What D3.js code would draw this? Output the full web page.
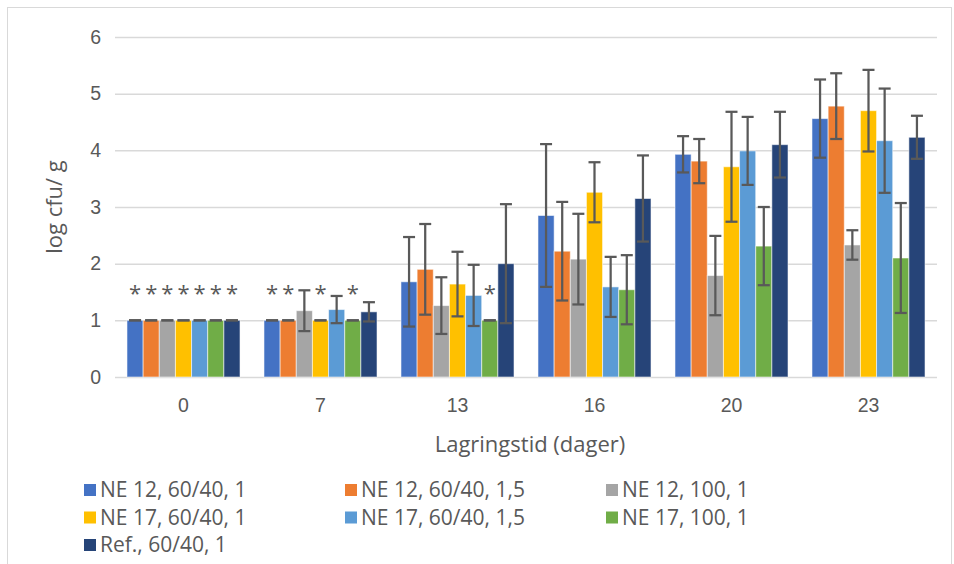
<!DOCTYPE html>
<html lang="en">
<head>
<meta charset="utf-8" />
<title>log cfu/g over storage time</title>
<script src="https://cdn.jsdelivr.net/npm/d3@7"></script>
<style>
    body { margin: 0; background: #fff; }
    svg { display: block; font-family: "Open Sans", sans-serif; }
</style>
</head>
<body>
<svg id="chart" width="954" height="564"></svg>
<script>
// storage days (categories)
const days = ["0", "7", "13", "16", "20", "23"];
const yTicks = [0, 1, 2, 3, 4, 5, 6];

const seriesNames = [
    "NE 12, 60/40, 1", "NE 12, 60/40, 1,5", "NE 12, 100, 1",
    "NE 17, 60/40, 1", "NE 17, 60/40, 1,5", "NE 17, 100, 1",
    "Ref., 60/40, 1"
];
const seriesColors = ["#4472C4", "#ED7D31", "#A5A5A5", "#FFC000", "#5B9BD5", "#70AD47", "#264478"];

// mean log cfu/g per day, one array per series
const ne12_6040_1   = [1.00, 1.00, 1.68, 2.85, 3.93, 4.56];
const ne12_6040_15  = [1.00, 1.00, 1.90, 2.22, 3.81, 4.78];
const ne12_100_1    = [1.00, 1.17, 1.26, 2.08, 1.79, 2.33];
const ne17_6040_1   = [1.00, 1.00, 1.64, 3.26, 3.71, 4.70];
const ne17_6040_15  = [1.00, 1.19, 1.44, 1.59, 3.99, 4.17];
const ne17_100_1    = [1.00, 1.00, 1.00, 1.54, 2.31, 2.10];
const ref_6040_1    = [1.00, 1.15, 2.00, 3.15, 4.10, 4.23];

// error bar half-lengths (+/-)
const ne12_6040_1_err  = [0, 0, 0.79, 1.26, 0.32, 0.69];
const ne12_6040_15_err = [0, 0, 0.80, 0.87, 0.39, 0.58];
const ne12_100_1_err   = [0, 0.36, 0.50, 0.80, 0.70, 0.26];
const ne17_6040_1_err  = [0, 0, 0.57, 0.53, 0.97, 0.72];
const ne17_6040_15_err = [0, 0.24, 0.54, 0.53, 0.60, 0.92];
const ne17_100_1_err   = [0, 0, 0, 0.61, 0.69, 0.97];
const ref_6040_1_err   = [0, 0.17, 1.05, 0.76, 0.58, 0.38];

// bars flagged with an asterisk: [day, series index]
const starMarks = [
    ["0", 0], ["0", 1], ["0", 2], ["0", 3], ["0", 4], ["0", 5], ["0", 6],
    ["7", 0], ["7", 1], ["7", 3], ["7", 5],
    ["13", 5]
];

const means = [ne12_6040_1, ne12_6040_15, ne12_100_1, ne17_6040_1, ne17_6040_15, ne17_100_1, ref_6040_1];
const errs = [ne12_6040_1_err, ne12_6040_15_err, ne12_100_1_err, ne17_6040_1_err, ne17_6040_15_err, ne17_100_1_err, ref_6040_1_err];

// flat table for drawing
const rows = [];
days.forEach((d, di) => {
    seriesNames.forEach((s, si) => {
        rows.push({ day: d, series: si, value: means[si][di], err: errs[si][di] });
    });
});

const svg = d3.select("#chart");
const textColor = "#595959";
const gridColor = "#d9d9d9";

// outer chart border
svg.append("rect")
    .attr("x", 7.5).attr("y", 7.5)
    .attr("width", 944).attr("height", 570)
    .attr("fill", "none")
    .attr("stroke", gridColor);

const plot = { left: 115, right: 937, top: 37, bottom: 377 };

const x0 = d3.scaleBand()
    .domain(days)
    .range([plot.left, plot.right])
    .paddingInner(0.175)
    .paddingOuter(0.0875);

const x1 = d3.scaleBand()
    .domain(d3.range(seriesNames.length))
    .range([0, x0.bandwidth()]);

const y = d3.scaleLinear()
    .domain([0, 6])
    .range([plot.bottom, plot.top]);

// gridlines + y labels
const yAxis = d3.axisLeft(y)
    .tickValues(yTicks)
    .tickSize(-(plot.right - plot.left))
    .tickPadding(14)
    .tickFormat(d3.format("d"));

const gy = svg.append("g")
    .attr("transform", `translate(${plot.left},0)`)
    .call(yAxis);
gy.select(".domain").remove();
gy.selectAll(".tick line").attr("stroke", gridColor).attr("stroke-width", 1.5);
gy.selectAll(".tick text")
    .attr("fill", textColor)
    .style("font-size", "19.5px");

// x labels
const xAxis = d3.axisBottom(x0).tickSize(0).tickPadding(21);
const gx = svg.append("g")
    .attr("transform", `translate(0,${plot.bottom})`)
    .call(xAxis);
gx.select(".domain").remove();
gx.selectAll(".tick text")
    .attr("fill", textColor)
    .style("font-size", "19.5px");

// bars
const groups = svg.append("g")
    .selectAll("g")
    .data(days)
    .join("g")
    .attr("transform", d => `translate(${x0(d)},0)`);

groups.selectAll("rect")
    .data(d => rows.filter(r => r.day === d))
    .join("rect")
    .attr("x", r => x1(r.series))
    .attr("y", r => y(r.value))
    .attr("width", x1.bandwidth())
    .attr("height", r => y(0) - y(r.value))
    .attr("fill", r => seriesColors[r.series])
    .attr("stroke", "rgba(255,255,255,0.55)")
    .attr("stroke-width", 1);

// error bars
const capHalf = 6;
const eb = groups.selectAll("g.err")
    .data(d => rows.filter(r => r.day === d))
    .join("g")
    .attr("class", "err")
    .attr("stroke", "#595959")
    .attr("stroke-width", 2.25);

eb.append("line")
    .attr("x1", r => x1(r.series) + x1.bandwidth() / 2)
    .attr("x2", r => x1(r.series) + x1.bandwidth() / 2)
    .attr("y1", r => y(r.value + r.err))
    .attr("y2", r => y(r.value - r.err));
eb.append("line")
    .attr("x1", r => x1(r.series) + x1.bandwidth() / 2 - capHalf)
    .attr("x2", r => x1(r.series) + x1.bandwidth() / 2 + capHalf)
    .attr("y1", r => y(r.value + r.err))
    .attr("y2", r => y(r.value + r.err));
eb.append("line")
    .attr("x1", r => x1(r.series) + x1.bandwidth() / 2 - capHalf)
    .attr("x2", r => x1(r.series) + x1.bandwidth() / 2 + capHalf)
    .attr("y1", r => y(r.value - r.err))
    .attr("y2", r => y(r.value - r.err));

// asterisks
svg.append("g")
    .selectAll("text")
    .data(starMarks)
    .join("text")
    .attr("x", m => x0(m[0]) + x1(m[1]) + x1.bandwidth() / 2)
    .attr("y", y(1) - 19)
    .attr("text-anchor", "middle")
    .attr("fill", textColor)
    .style("font-size", "22px")
    .text("*");

// axis titles
svg.append("text")
    .attr("x", (plot.left + plot.right) / 2 + 4)
    .attr("y", 452)
    .attr("text-anchor", "middle")
    .attr("fill", textColor)
    .style("font-size", "22px")
    .text("Lagringstid (dager)");

svg.append("text")
    .attr("transform", `translate(62,${(plot.top + plot.bottom) / 2}) rotate(-90)`)
    .attr("text-anchor", "middle")
    .attr("fill", textColor)
    .style("font-size", "22px")
    .text("log cfu/ g");

// legend, 3 columns
const legend = svg.append("g")
    .selectAll("g")
    .data(seriesNames)
    .join("g")
    .attr("transform", (d, i) => `translate(${84 + (i % 3) * 261},${490 + Math.floor(i / 3) * 27.5})`);

legend.append("rect")
    .attr("x", 0).attr("y", -6)
    .attr("width", 12).attr("height", 12)
    .attr("fill", (d, i) => seriesColors[i]);

legend.append("text")
    .attr("x", 16)
    .attr("dy", "0.35em")
    .attr("fill", textColor)
    .style("font-size", "21px")
    .text(d => d);
</script>
</body>
</html>
